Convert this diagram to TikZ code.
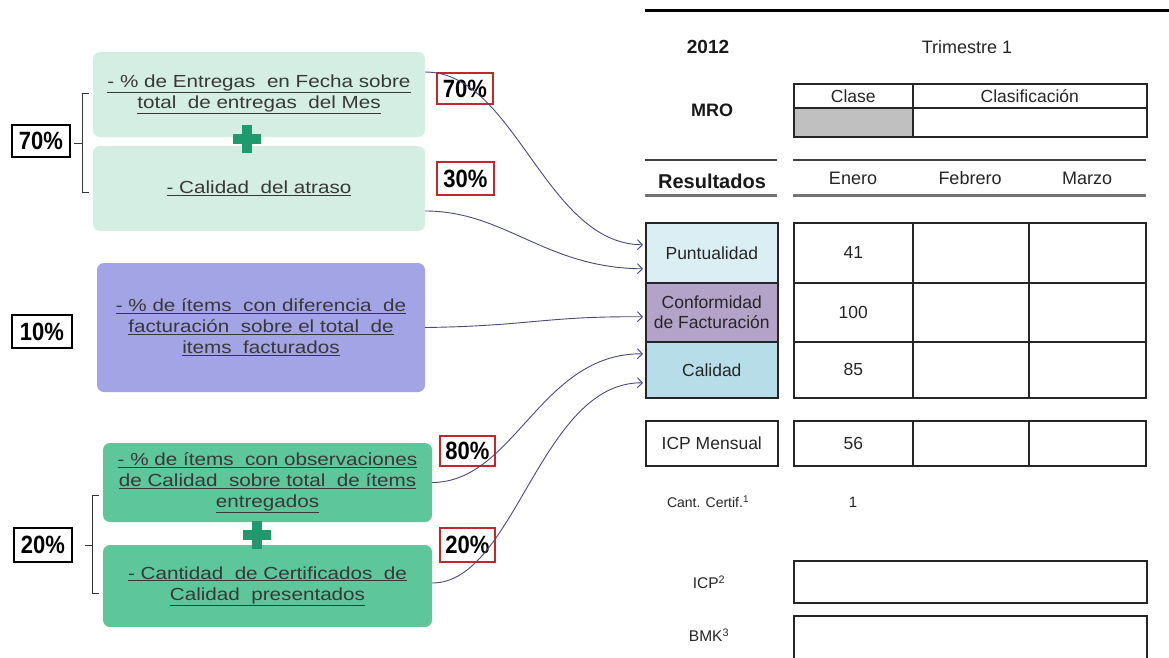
\documentclass[tikz,border=0pt]{standalone}
\usepackage{fontspec}
\setmainfont{Liberation Sans}
\newfontfamily\boxfont[FakeStretch=1.18]{Liberation Sans}
\newfontfamily\pctfont[FakeStretch=0.88]{Liberation Sans}
\usetikzlibrary{arrows.meta}
\definecolor{mint}{HTML}{D5EEE3}
\definecolor{lav}{HTML}{A3A4E6}
\definecolor{grn}{HTML}{5EC69B}
\definecolor{plusc}{HTML}{1E9A6E}
\definecolor{redb}{HTML}{C0282D}
\definecolor{arrowc}{HTML}{4B4B78}
\definecolor{punc}{HTML}{DBEEF4}
\definecolor{confc}{HTML}{B4A3C8}
\definecolor{calc}{HTML}{B7DEE8}
\definecolor{grayc}{HTML}{C0C0C0}
\begin{document}
\begin{tikzpicture}[x=1pt,y=-1pt,
  lbox/.style={rounded corners=7pt, inner sep=0pt, align=center,
    font=\boxfont\fontsize{17.5}{21}\selectfont, text=black!78},
  pct/.style={draw=black, line width=1.3pt, inner sep=0pt,
    font=\pctfont\bfseries\fontsize{25}{25}\selectfont},
  rpct/.style={pct, draw=redb},
  conn/.style={draw=arrowc, line width=0.9pt, shorten >=2pt,
    -{Straight Barb[length=5pt,width=10pt]}},
  cell/.style={draw=black!85, line width=1.6pt, inner sep=0pt, anchor=north west,
    align=center, text=black!85, font=\fontsize{17.5}{20}\selectfont},
  ttxt/.style={text=black!85, font=\fontsize{18}{20}\selectfont},
  tbold/.style={text=black!90, font=\bfseries\fontsize{19}{22}\selectfont},
  brace/.style={draw=black!80, line width=0.8pt},
  rulea/.style={draw=black!75, line width=2pt},
  ruleb/.style={draw=black!55, line width=3pt}
]
\clip (0,0) rectangle (1169,657);
\fill[white] (0,0) rectangle (1169,657);

% ---------- left boxes ----------
\node[lbox, fill=mint, minimum width=332pt, minimum height=85pt] (b1) at (259,94.5)
  {\underline{- \% de Entregas\ \ en Fecha sobre}\\\underline{total\ \ de entregas\ \ del Mes}};
\node[lbox, fill=mint, minimum width=332pt, minimum height=85pt] (b2) at (259,188.5)
  {\underline{- Calidad\ \ del atraso}};
\fill[plusc] (233,134) rectangle (261,144);
\fill[plusc] (242,125) rectangle (252,153);

\node[lbox, fill=lav, minimum width=328pt, minimum height=129pt] (b3) at (261,327.5)
  {\underline{- \% de ítems\ \ con diferencia\ \ de}\\\underline{facturación\ \ sobre el total\ \ de}\\\underline{items\ \ facturados}};

\node[lbox, fill=grn, minimum width=329pt, minimum height=79pt] (b4) at (267.5,482.5)
  {\underline{- \% de ítems\ \ con observaciones}\\\underline{de Calidad\ \ sobre total\ \ de ítems}\\\underline{entregados}};
\node[lbox, fill=grn, minimum width=329pt, minimum height=82pt] (b5) at (267.5,586)
  {\underline{- Cantidad\ \ de Certificados\ \ de}\\\underline{Calidad\ \ presentados}};
\fill[plusc] (243,530) rectangle (271,540);
\fill[plusc] (252,521) rectangle (262,549);

% ---------- braces ----------
\draw[brace] (89,93) -- (82,93) -- (82,192) -- (89,192);
\draw[brace] (82,143) -- (74,143);
\draw[brace] (99,495) -- (92,495) -- (92,593) -- (99,593);
\draw[brace] (92,545) -- (85,545);

% ---------- percentages ----------
\node[pct, minimum width=58pt, minimum height=32pt] (p70) at (41,141) {70\%};
\node[pct, minimum width=60pt, minimum height=33pt] (p10) at (42,331.5) {10\%};
\node[pct, minimum width=58pt, minimum height=34pt] (p20) at (43,545) {20\%};
\node[rpct, minimum width=56pt, minimum height=31pt] (r70) at (465,88.5) {70\%};
\node[rpct, minimum width=57pt, minimum height=33pt] (r30) at (465.5,178.5) {30\%};
\node[rpct, minimum width=55pt, minimum height=30pt] (r80) at (467.5,451) {80\%};
\node[rpct, minimum width=55pt, minimum height=34pt] (r20) at (467.5,545) {20\%};

% ---------- table header ----------
\draw[draw=black, line width=3pt] (645,10) -- (1169,10);
\node[tbold] (y2012) at (708,47) {2012};
\node[ttxt] (tri) at (967,47) {Trimestre 1};
\node[tbold, font=\bfseries\fontsize{18}{20}\selectfont] (mro) at (712,110) {MRO};
\node[cell, minimum width=119pt, minimum height=24pt] (clase) at (793,83) {Clase};
\node[cell, minimum width=234pt, minimum height=24pt] (clasif) at (912,83) {Clasificación};
\node[cell, fill=grayc, minimum width=119pt, minimum height=29pt] (clasev) at (793,107) {};
\node[cell, minimum width=234pt, minimum height=29pt] (clasifv) at (912,107) {};

\draw[rulea] (645,160) -- (777,160);
\draw[rulea] (793,160) -- (1146,160);
\draw[ruleb] (645,195) -- (777,195);
\draw[ruleb] (793,195) -- (1146,195);
\node[tbold, font=\bfseries\fontsize{20}{22}\selectfont] (res) at (712,181) {Resultados};
\node[ttxt] (ene) at (853,178) {Enero};
\node[ttxt] (feb) at (970,178) {Febrero};
\node[ttxt] (mar) at (1087,178) {Marzo};

% ---------- results ----------
\node[cell, fill=punc, minimum width=132pt, minimum height=60pt] (pun) at (645,222) {Puntualidad};
\node[cell, fill=confc, minimum width=132pt, minimum height=59pt] (conf) at (645,282) {Conformidad\\de Facturación};
\node[cell, fill=calc, minimum width=132pt, minimum height=56pt] (cal) at (645,341) {Calidad};

\node[cell, minimum width=119pt, minimum height=60pt] (c11) at (793,222) {41};
\node[cell, minimum width=116pt, minimum height=60pt] (c12) at (912,222) {};
\node[cell, minimum width=117pt, minimum height=60pt] (c13) at (1028,222) {};
\node[cell, minimum width=119pt, minimum height=59pt] (c21) at (793,282) {100};
\node[cell, minimum width=116pt, minimum height=59pt] (c22) at (912,282) {};
\node[cell, minimum width=117pt, minimum height=59pt] (c23) at (1028,282) {};
\node[cell, minimum width=119pt, minimum height=56pt] (c31) at (793,341) {85};
\node[cell, minimum width=116pt, minimum height=56pt] (c32) at (912,341) {};
\node[cell, minimum width=117pt, minimum height=56pt] (c33) at (1028,341) {};

\node[cell, minimum width=132pt, minimum height=45pt] (icpm) at (645,420) {ICP Mensual};
\node[cell, minimum width=119pt, minimum height=45pt] (m1) at (793,420) {56};
\node[cell, minimum width=116pt, minimum height=45pt] (m2) at (912,420) {};
\node[cell, minimum width=117pt, minimum height=45pt] (m3) at (1028,420) {};

\node[ttxt, font=\fontsize{14}{16}\selectfont] (cant) at (708,502) {Cant. Certif.\textsuperscript{1}};
\node[ttxt, font=\fontsize{15}{16}\selectfont] (cantv) at (853,502) {1};

\node[ttxt, font=\fontsize{15.5}{18}\selectfont] (icp) at (709,582) {ICP\textsuperscript{2}};
\node[cell, minimum width=353pt, minimum height=42pt] (icpbox) at (793,560) {};
\node[ttxt, font=\fontsize{15.5}{18}\selectfont] (bmk) at (709,635) {BMK\textsuperscript{3}};
\node[cell, minimum width=353pt, minimum height=60pt] (bmkbox) at (793,615) {};

% ---------- connectors ----------
\draw[conn] ([yshift=22.5pt]b1.east) .. controls (515,72) and (545,244) .. ([yshift=8pt]pun.west);
\draw[conn] ([yshift=-22.5pt]b2.east) .. controls (505,211) and (545,268) .. ([yshift=-16pt]pun.west);
\draw[conn] (b3.east) .. controls (530,326) and (545,316) .. ([yshift=-4.5pt]conf.west);
\draw[conn] (b4.east) .. controls (515,482) and (540,353) .. ([yshift=16pt]cal.west);
\draw[conn] ([yshift=3pt]b5.east) .. controls (515,583) and (540,382) .. ([yshift=-13pt]cal.west);
\end{tikzpicture}
\end{document}
